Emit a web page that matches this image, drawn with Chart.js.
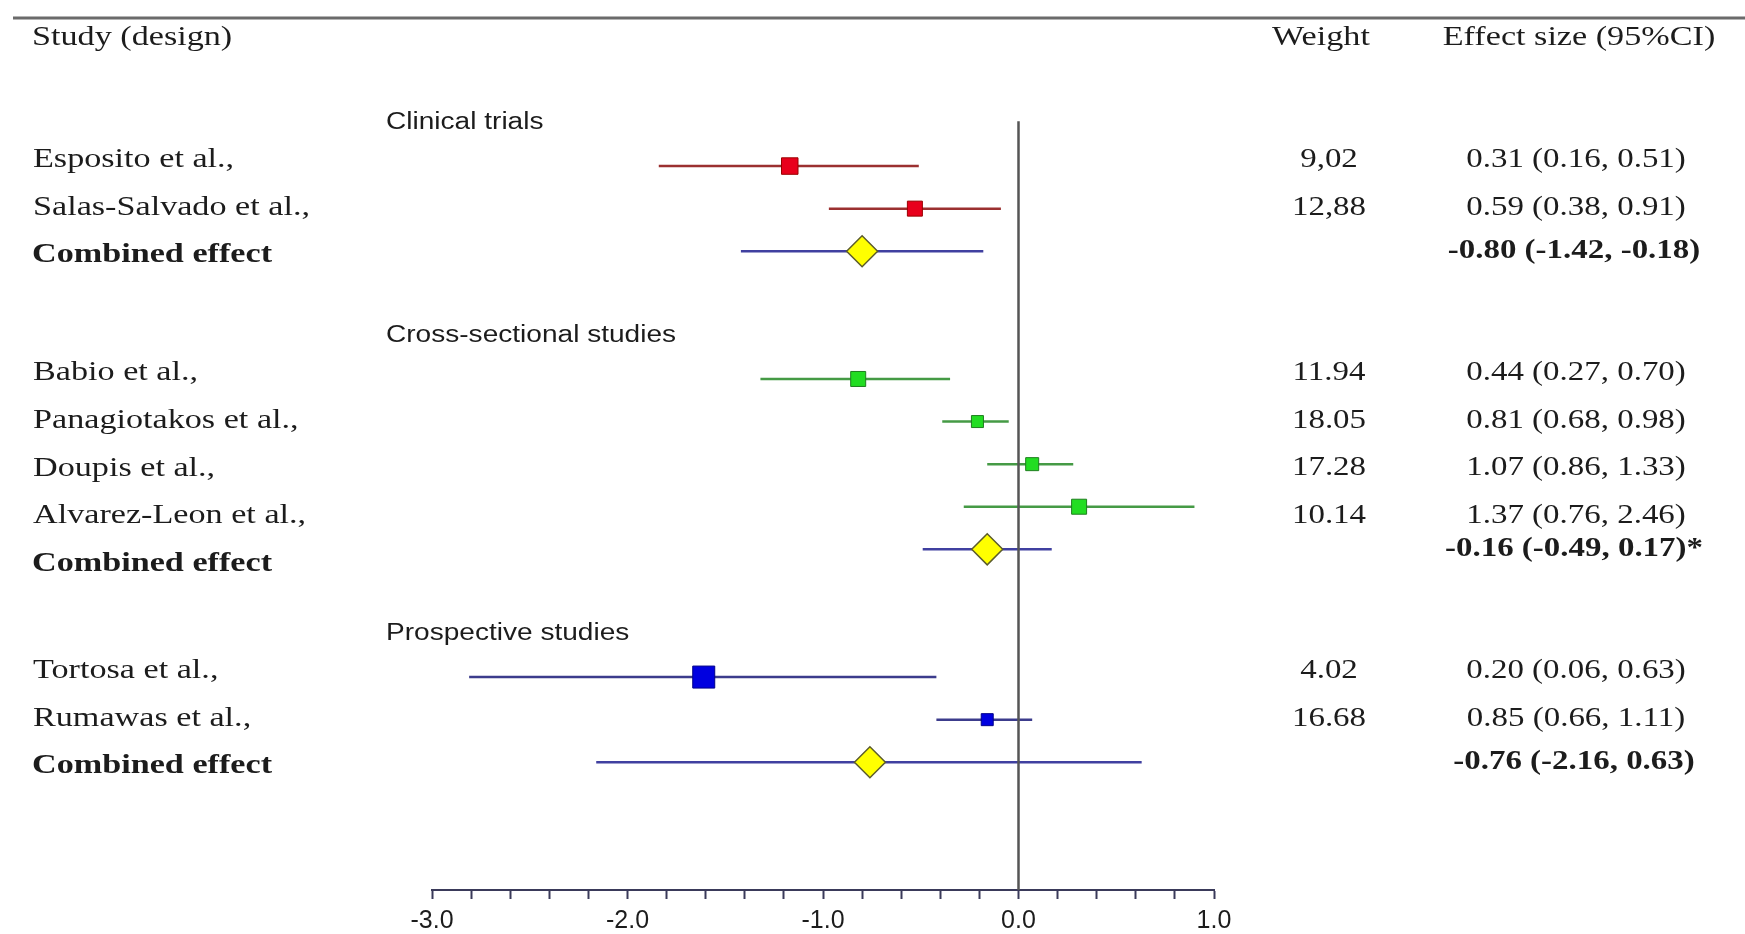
<!DOCTYPE html>
<html>
<head>
<meta charset="utf-8">
<title>Forest plot</title>
<script src="https://cdn.jsdelivr.net/npm/chart.js@4.4.1/dist/chart.umd.min.js"></script>
<style>
  html, body { margin: 0; padding: 0; background: #fff; }
  #forest { display: block; width: 1745px; height: 934px; }
</style>
</head>
<body>
<canvas id="forest" width="1745" height="934"></canvas>
<script>
// Designs, in plotting order
const groupNames = ['Clinical trials', 'Cross-sectional studies', 'Prospective studies'];

// Individual studies (effect plotted on the log scale)
const studyNames = [
    'Esposito et al.,', 'Salas-Salvado et al.,',
    'Babio et al.,', 'Panagiotakos et al.,', 'Doupis et al.,', 'Alvarez-Leon et al.,',
    'Tortosa et al.,', 'Rumawas et al.,'
];
const studyGroup = [0, 0, 1, 1, 1, 1, 2, 2];
const studyEffect = [-1.17, -0.53, -0.82, -0.21, 0.07, 0.31, -1.61, -0.16];
const studyLower = [-1.84, -0.97, -1.32, -0.39, -0.16, -0.28, -2.81, -0.42];
const studyUpper = [-0.51, -0.09, -0.35, -0.05, 0.28, 0.90, -0.42, 0.07];
const studyWeight = ['9,02', '12,88', '11.94', '18.05', '17.28', '10.14', '4.02', '16.68'];
const studyOR = [0.31, 0.59, 0.44, 0.81, 1.07, 1.37, 0.20, 0.85];
const studyORLower = [0.16, 0.38, 0.27, 0.68, 0.86, 0.76, 0.06, 0.66];
const studyORUpper = [0.51, 0.91, 0.70, 0.98, 1.33, 2.46, 0.63, 1.11];

// Pooled estimate for each design
const pooledEffect = [-0.80, -0.16, -0.76];
const pooledLower = [-1.42, -0.49, -2.16];
const pooledUpper = [-0.18, 0.17, 0.63];
const pooledNote = ['', '*', ''];

// Axis
const xMin = -3.0;
const xMax = 1.0;
const xStep = 0.2;
const yTop = -2.5;
const yBottom = 18;

// Styling
const lineColor = ['#9b3030', '#459a45', '#3c3c8c'];
const markFill = ['#e8001c', '#22dd22', '#0000e0'];
const markEdge = ['#9a0000', '#1f7f1f', '#00008a'];
const markSide = [16.5, 15, 15, 12, 13, 15, 22, 12];
const pooledLine = '#4040a0';
const textColor = '#1c1c1c';
const serif = '"Liberation Serif", "Times New Roman", serif';
const sans = '"Liberation Sans", Arial, sans-serif';
const stretch = 1.22;

// Row index of every line of the table, built from the groups
const headerRow = [], studyRow = [], studyIdx = [], pooledRow = [], pooledIdx = [];
let row = 0;
groupNames.forEach((g, gi) => {
    headerRow.push(row++);
    let k = 0;
    studyGroup.forEach((sg, si) => {
        if (sg === gi) { studyRow[si] = row++; studyIdx[si] = k++; }
    });
    pooledRow.push(row);
    pooledIdx.push(k);
    row += 2;
});

const fmt = v => v.toFixed(2);
const orLabel = i => `${fmt(studyOR[i])} (${fmt(studyORLower[i])}, ${fmt(studyORUpper[i])})`;
const pooledLabel = i => `${fmt(pooledEffect[i])} (${fmt(pooledLower[i])}, ${fmt(pooledUpper[i])})${pooledNote[i]}`;

// Confidence interval segments
const studyCI = studyNames.map((n, i) => ({
    label: n,
    data: [{ x: studyLower[i], y: studyRow[i] }, { x: studyUpper[i], y: studyRow[i] }],
    showLine: true,
    borderColor: lineColor[studyGroup[i]],
    borderWidth: 2.5,
    pointRadius: 0,
    order: 3
}));
const pooledCI = pooledEffect.map((e, i) => ({
    label: 'Combined ' + groupNames[i],
    data: [{ x: pooledLower[i], y: pooledRow[i] }, { x: pooledUpper[i], y: pooledRow[i] }],
    showLine: true,
    borderColor: pooledLine,
    borderWidth: 2.5,
    pointRadius: 0,
    order: 3
}));

const datasets = [
    {
        label: 'Studies',
        data: studyEffect.map((e, i) => ({ x: e, y: studyRow[i] })),
        pointStyle: 'rect',
        pointRadius: markSide.map(s => s / Math.SQRT2),
        backgroundColor: studyGroup.map(g => markFill[g]),
        borderColor: studyGroup.map(g => markEdge[g]),
        borderWidth: 1,
        order: 0
    },
    {
        label: 'Combined effect',
        data: pooledEffect.map((e, i) => ({ x: e, y: pooledRow[i] })),
        pointStyle: 'rectRot',
        pointRadius: 15.5,
        backgroundColor: '#ffff00',
        borderColor: '#5c5c2c',
        borderWidth: 1.5,
        order: 0
    },
    {
        label: 'No effect',
        data: [{ x: 0, y: -0.05 }, { x: 0, y: yBottom }],
        showLine: true,
        borderColor: '#555555',
        borderWidth: 2.5,
        pointRadius: 0,
        order: 1
    },
    ...studyCI,
    ...pooledCI
];

function stretchText(ctx, text, x, y, align) {
    ctx.save();
    ctx.translate(x, y);
    ctx.scale(stretch, 1);
    ctx.textAlign = align;
    ctx.fillText(text, 0, 0);
    ctx.restore();
}

// Table text around the plot: headers, study names, weights and estimates
const tablePlugin = {
    id: 'forestTable',
    afterDraw(chart) {
        const ctx = chart.ctx;
        const ys = chart.scales.y;
        const area = chart.chartArea;
        const drift = (r, k) => ys.getPixelForValue(r) + k * 5 - 6;

        ctx.save();
        ctx.strokeStyle = '#6b6b6b';
        ctx.lineWidth = 3;
        ctx.beginPath();
        ctx.moveTo(13, area.top + 1);
        ctx.lineTo(chart.width, area.top + 1);
        ctx.stroke();

        ctx.fillStyle = textColor;
        ctx.textBaseline = 'middle';

        const top = ys.getPixelForValue(-2) - 1;
        ctx.font = '28px ' + serif;
        stretchText(ctx, 'Study (design)', 32, top, 'left');
        stretchText(ctx, 'Weight', 1321, top, 'center');
        stretchText(ctx, 'Effect size (95%CI)', 1579, top, 'center');

        ctx.font = '23px ' + sans;
        groupNames.forEach((g, i) => {
            stretchText(ctx, g, 386, ys.getPixelForValue(headerRow[i]) - 1, 'left');
        });

        studyNames.forEach((n, i) => {
            const y = drift(studyRow[i], studyIdx[i]);
            ctx.font = '28px ' + serif;
            stretchText(ctx, n, 33, y, 'left');
            ctx.font = '27px ' + serif;
            stretchText(ctx, studyWeight[i], 1329, y, 'center');
            stretchText(ctx, orLabel(i), 1576, y, 'center');
        });

        pooledEffect.forEach((e, i) => {
            ctx.font = 'bold 28px ' + serif;
            stretchText(ctx, 'Combined effect', 32, drift(pooledRow[i], pooledIdx[i]), 'left');
            ctx.font = 'bold 27px ' + serif;
            stretchText(ctx, pooledLabel(i), 1574, ys.getPixelForValue(pooledRow[i]), 'center');
        });
        ctx.restore();
    }
};

new Chart(document.getElementById('forest'), {
    type: 'scatter',
    data: { datasets },
    options: {
        responsive: false,
        animation: false,
        events: [],
        layout: { padding: { left: 432, right: 531, top: 11, bottom: 0 } },
        plugins: { legend: { display: false }, tooltip: { enabled: false } },
        scales: {
            x: {
                type: 'linear',
                min: xMin,
                max: xMax,
                afterFit: scale => { scale.height = 44; },
                border: { display: true, color: '#3a3a5a', width: 2 },
                grid: { drawOnChartArea: false, drawTicks: true, tickLength: 9, tickColor: '#3a3a5a', tickWidth: 2 },
                ticks: {
                    stepSize: xStep,
                    autoSkip: false,
                    maxRotation: 0,
                    padding: 7,
                    color: textColor,
                    font: { family: sans, size: 25 },
                    callback: v => Math.abs(v - Math.round(v)) < 1e-6 ? Math.round(v).toFixed(1) : ''
                }
            },
            y: {
                type: 'linear',
                reverse: true,
                min: yTop,
                max: yBottom,
                display: false
            }
        }
    },
    plugins: [tablePlugin]
});
</script>
</body>
</html>
